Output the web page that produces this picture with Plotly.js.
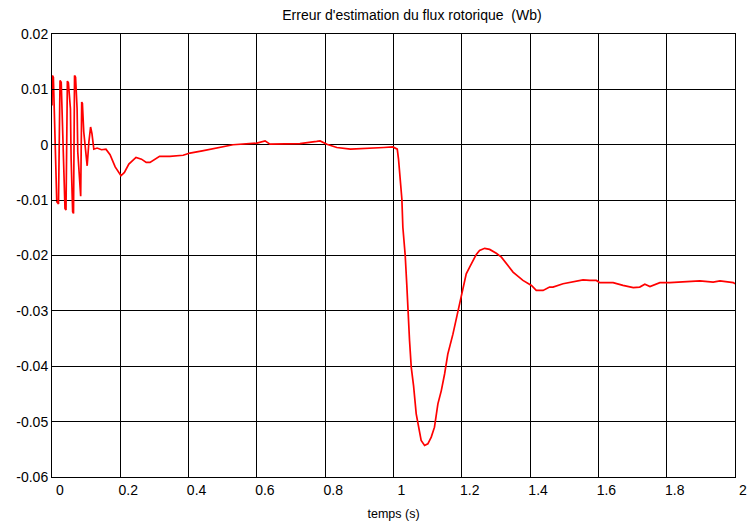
<!DOCTYPE html>
<html>
<head>
<meta charset="utf-8">
<script src="https://cdn.plot.ly/plotly-3.0.1.min.js"></script>
<style>html,body{margin:0;padding:0;background:#fff;}#chart{width:748px;height:526px;}</style>
</head>
<body>
<div id="chart"></div>
<script>
var temps = [0, 0.001, 0.004, 0.006, 0.0098, 0.014, 0.019, 0.0235, 0.027, 0.0294, 0.0324, 0.038, 0.041, 0.045, 0.048, 0.05, 0.054, 0.056, 0.0605, 0.063, 0.066, 0.069, 0.0735, 0.0755, 0.082, 0.084, 0.087, 0.089, 0.093, 0.098, 0.103, 0.108, 0.113, 0.117, 0.1225, 0.132,
  0.145, 0.158, 0.17, 0.185, 0.202, 0.212, 0.225, 0.246, 0.262, 0.276, 0.287, 0.315, 0.345, 0.384, 0.404, 0.44, 0.482, 0.53, 0.6, 0.624, 0.638, 0.677, 0.726, 0.775, 0.785, 0.805, 0.834, 0.874, 0.922, 0.972, 0.998,
  1.003, 1.011, 1.0147, 1.0196, 1.0245, 1.0274, 1.0343, 1.039, 1.042, 1.047, 1.052, 1.0587, 1.0665, 1.0714, 1.076, 1.081, 1.091, 1.1006, 1.1105, 1.12, 1.13, 1.14, 1.1496, 1.159, 1.174, 1.1886, 1.1985, 1.206,
  1.213, 1.223, 1.2326, 1.2425, 1.252, 1.267, 1.2815, 1.301, 1.316, 1.33, 1.35, 1.379, 1.404, 1.418, 1.438, 1.457, 1.467, 1.4965, 1.526, 1.555, 1.575, 1.594, 1.604, 1.643, 1.672, 1.702, 1.721, 1.736, 1.751, 1.78, 1.809, 1.858, 1.897, 1.936, 1.956, 1.995, 2.0];
var erreurFlux = [0.0071, 0.0125, 0.0122, 0.0065, -0.0019, -0.0103, -0.0107, 0.0116, 0.0113, 0.0071, -0.0007, -0.0115, -0.0118, 0.0115, 0.0112, 0.0089, 0.0065, -0.0025, -0.0121, -0.0124, 0.0125, 0.0122, 0.0065, -0.0013, -0.0091, -0.0093, 0.0077, 0.0075, 0.0023, -0.0015, -0.0038, 0.0005, 0.0032, 0.002, -0.0008, -0.0006,
  -0.0009, -0.0008, -0.0018, -0.004, -0.0056, -0.005, -0.0035, -0.0023, -0.0026, -0.0032, -0.0032, -0.0021, -0.0021, -0.0019, -0.0015, -0.0011, -0.0006, 0, 0.0003, 0.0007, 0.0001, 0.0001, 0.0002, 0.0006, 0.0007, 0.0001, -0.0005, -0.0008, -0.0007, -0.0005, -0.0004,
  -0.0005, -0.0008, -0.0026, -0.0056, -0.0098, -0.0149, -0.02, -0.0254, -0.0303, -0.0354, -0.0402, -0.0435, -0.0486, -0.0504, -0.0522, -0.0534, -0.0543, -0.054, -0.0528, -0.051, -0.0468, -0.0444, -0.0414, -0.0378, -0.0342, -0.03, -0.027, -0.0248,
  -0.0233, -0.0221, -0.0209, -0.0198, -0.0191, -0.0187, -0.0189, -0.0196, -0.0203, -0.0215, -0.023, -0.0245, -0.0254, -0.0263, -0.0263, -0.0257, -0.0257, -0.0251, -0.0248, -0.0244, -0.0245, -0.0245, -0.0249, -0.0249, -0.0254, -0.0258, -0.0257, -0.0252, -0.0256, -0.0249, -0.0249, -0.0248, -0.0246, -0.0248, -0.0246, -0.0249, -0.0251];
var xTickVals = [0, 0.2, 0.4, 0.6, 0.8, 1, 1.2, 1.4, 1.6, 1.8, 2];
var xTickText = ["0", "0.2", "0.4", "0.6", "0.8", "1", "1.2", "1.4", "1.6", "1.8", "2"];
var yTickVals = [0.02, 0.01, 0, -0.01, -0.02, -0.03, -0.04, -0.05, -0.06];
var yTickText = ["0.02", "0.01", "0", "-0.01", "-0.02", "-0.03", "-0.04", "-0.05", "-0.06"];

var fam = "Liberation Sans, Arial, sans-serif";
var tickFont = {family: fam, size: 14, color: "#000"};
var axisCommon = {
  showline: true, mirror: "ticks", linecolor: "#000", linewidth: 1,
  showgrid: true, gridcolor: "#000", gridwidth: 1,
  ticks: "inside", ticklen: 5, tickcolor: "#000",
  zeroline: false, tickfont: tickFont, tickmode: "array"
};
var layout = {
  width: 748, height: 526,
  margin: {l: 52, r: 13, t: 34, b: 49},
  paper_bgcolor: "#fff", plot_bgcolor: "#fff",
  showlegend: false,
  font: {family: fam, size: 12, color: "#000"},
  title: {text: "Erreur d'estimation du flux rotorique  (Wb)", font: {family: fam, size: 14, color: "#000"}, x: 0.527, xref: "paper", xanchor: "center", y: 0.972, yanchor: "middle"},
  xaxis: Object.assign({}, axisCommon, {
    range: [0, 2], tickvals: xTickVals, ticktext: xTickText, ticklabelshift: 8,
    title: {text: "temps (s)", font: {family: fam, size: 12.5, color: "#000"}, standoff: 12}
  }),
  yaxis: Object.assign({}, axisCommon, {
    range: [-0.06, 0.02], tickvals: yTickVals, ticktext: yTickText
  })
};
var trace = {x: temps, y: erreurFlux, type: "scatter", mode: "lines", line: {color: "#ff0000", width: 1.7}, hoverinfo: "none"};
Plotly.newPlot("chart", [trace], layout, {staticPlot: true, displayModeBar: false});
</script>
</body>
</html>
